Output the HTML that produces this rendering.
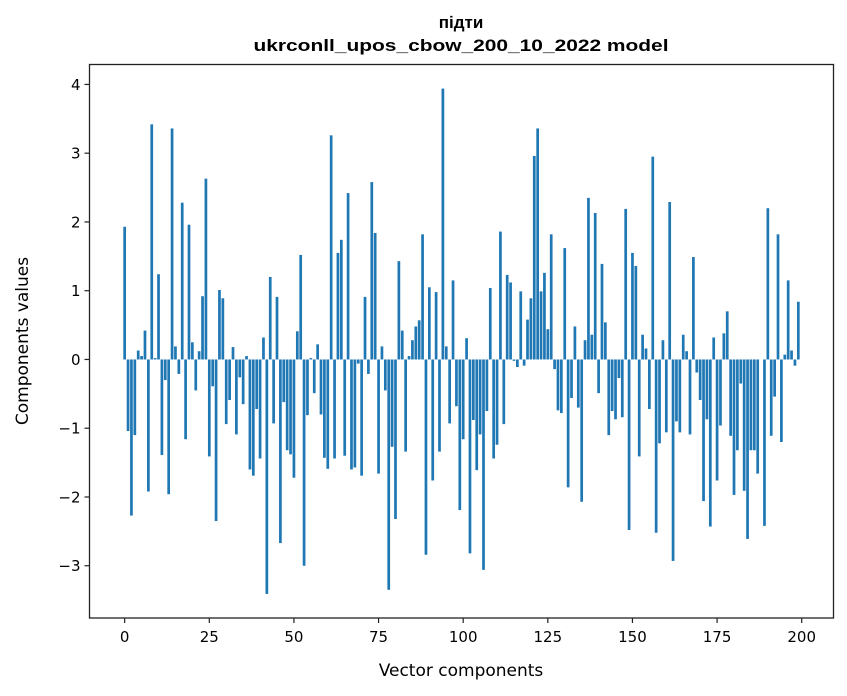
<!DOCTYPE html>
<html><head><meta charset="utf-8"><style>
html,body{margin:0;padding:0;background:#fff;}
svg{display:block;font-family:"DejaVu Sans","Liberation Sans",sans-serif;}
</style></head><body>
<svg id="chart" width="847" height="696" viewBox="0 0 847 696" xmlns="http://www.w3.org/2000/svg">
<rect x="0" y="0" width="847" height="696" fill="#fff"/>
<text x="461" y="28" text-anchor="middle" font-family="Liberation Sans, sans-serif" font-weight="bold" font-size="17">підти</text>
<text x="461" y="51" text-anchor="middle" font-family="Liberation Sans, sans-serif" font-weight="bold" font-size="17" textLength="415" lengthAdjust="spacingAndGlyphs">ukrconll_upos_cbow_200_10_2022 model</text>
<g id="bars"></g>
<g id="axes"></g>
<rect x="89.5" y="64.5" width="744" height="553.5" fill="none" stroke="#222" stroke-width="1.3"/>
<text x="461" y="676" text-anchor="middle" font-size="17">Vector components</text>
<text x="28" y="341" text-anchor="middle" font-size="17" transform="rotate(-90 28 341)">Components values</text>
</svg>
<script>
const values = [1.93,-1.04,-2.27,-1.10,0.13,0.05,0.42,-1.92,3.42,0.02,
1.24,-1.39,-0.30,-1.96,3.36,0.19,-0.21,2.28,-1.16,1.96,
0.25,-0.45,0.12,0.92,2.63,-1.41,-0.39,-2.35,1.01,0.89,
-0.94,-0.59,0.18,-1.09,-0.26,-0.65,0.05,-1.60,-1.69,-0.72,
-1.44,0.32,-3.41,1.20,-0.93,0.91,-2.67,-0.62,-1.32,-1.38,
-1.72,0.41,1.52,-3.00,-0.81,0.02,-0.49,0.22,-0.80,-1.43,
-1.59,3.26,-1.44,1.55,1.74,-1.40,2.42,-1.60,-1.57,-0.06,
-1.69,0.91,-0.21,2.58,1.84,-1.66,0.19,-0.45,-3.35,-1.27,
-2.32,1.43,0.42,-1.34,0.05,0.28,0.48,0.57,1.82,-2.84,
1.05,-1.76,0.98,-1.34,3.94,0.19,-0.93,1.15,-0.68,-2.19,
-1.16,0.31,-2.82,-0.88,-1.61,-1.09,-3.06,-0.75,1.04,-1.44,
-1.24,1.86,-0.94,1.23,1.12,-0.02,-0.11,0.99,-0.09,0.58,
0.89,2.96,3.36,0.99,1.26,0.44,1.82,-0.14,-0.74,-0.78,
1.62,-1.86,-0.56,0.48,-0.70,-2.07,0.28,2.35,0.36,2.13,
-0.49,1.39,0.54,-1.10,-0.75,-0.87,-0.27,-0.84,2.19,-2.48,
1.55,1.36,-1.41,0.36,0.16,-0.72,2.95,-2.52,-1.22,0.28,
-1.06,2.29,-2.93,-0.90,-1.06,0.36,0.12,-1.09,1.49,-0.19,
-0.59,-2.06,-0.87,-2.43,0.32,-1.76,-0.96,0.38,0.70,-1.11,
-1.97,-1.32,-0.35,-1.91,-2.61,-1.32,-1.32,-1.66,0.00,-2.42,
2.20,-1.11,-0.54,1.82,-1.20,0.07,1.15,0.13,-0.09,0.84];
const xTicks = [0,25,50,75,100,125,150,175,200];
const yTicks = [-3,-2,-1,0,1,2,3,4];

const NS = "http://www.w3.org/2000/svg";
const X0 = 89.5, X1 = 833.5, Y0 = 64.5, Y1 = 618;
const xMin = -10.39, xMax = 209.39, yMin = -3.76, yMax = 4.29;
function xs(v){ return X0 + (v - xMin) / (xMax - xMin) * (X1 - X0); }
function ys(v){ return Y1 - (v - yMin) / (yMax - yMin) * (Y1 - Y0); }

const barsG = document.getElementById('bars');
values.forEach((v, i) => {
  const r = document.createElementNS(NS, 'rect');
  
  
  const xl = xs(i - 0.4), xr = xs(i + 0.4);
  const y0 = ys(0), yv = ys(v);
  r.setAttribute('x', xl);
  r.setAttribute('width', xr - xl);
  r.setAttribute('y', Math.min(y0, yv));
  r.setAttribute('height', Math.abs(y0 - yv));
  r.setAttribute('fill', '#1f77b4');
  barsG.appendChild(r);
});

const axesG = document.getElementById('axes');
xTicks.forEach(t => {
  const x = xs(t);
  const l = document.createElementNS(NS, 'line');
  
  
  l.setAttribute('x1', x); l.setAttribute('x2', x);
  l.setAttribute('y1', Y1); l.setAttribute('y2', Y1 + 5);
  l.setAttribute('stroke', '#222'); l.setAttribute('stroke-width', '1.2');
  axesG.appendChild(l);
  const tx = document.createElementNS(NS, 'text');
  
  
  tx.setAttribute('x', x); tx.setAttribute('y', Y1 + 24);
  tx.setAttribute('text-anchor', 'middle'); tx.setAttribute('font-size', '15');
  tx.textContent = String(t);
  axesG.appendChild(tx);
});
yTicks.forEach(t => {
  const y = ys(t);
  const l = document.createElementNS(NS, 'line');
  
  
  l.setAttribute('x1', X0 - 5); l.setAttribute('x2', X0);
  l.setAttribute('y1', y); l.setAttribute('y2', y);
  l.setAttribute('stroke', '#222'); l.setAttribute('stroke-width', '1.2');
  axesG.appendChild(l);
  const tx = document.createElementNS(NS, 'text');
  
  
  tx.setAttribute('x', X0 - 9); tx.setAttribute('y', y + 5.5);
  tx.setAttribute('text-anchor', 'end'); tx.setAttribute('font-size', '15');
  tx.textContent = t < 0 ? '\u2212' + Math.abs(t) : String(t);
  axesG.appendChild(tx);
});
</script>
</body></html>
